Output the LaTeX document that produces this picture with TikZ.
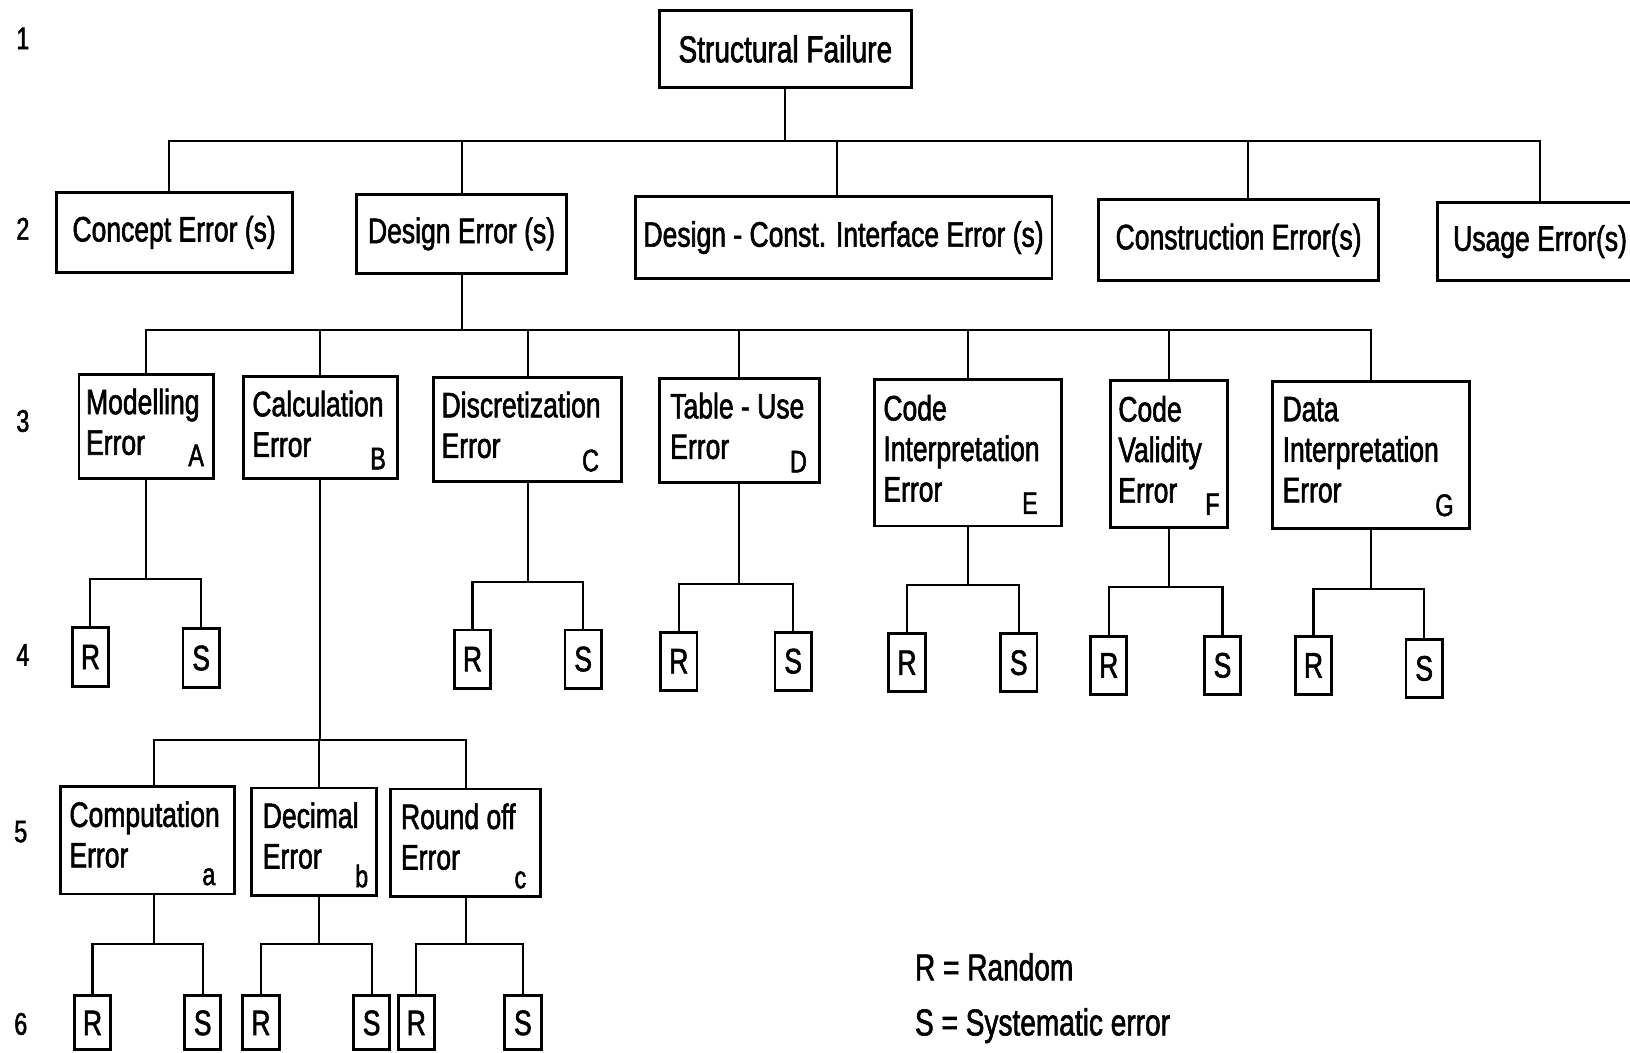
\documentclass[tikz,border=0pt]{standalone}
\usepackage{fontspec}
\setmainfont{Liberation Sans}[FakeStretch=0.75,FakeBold=1.6]
\begin{document}
\begin{tikzpicture}[x=1pt,y=-1pt,
  box/.style={draw, line width=2.8pt, inner sep=0pt, rectangle},
  conn/.style={line width=2pt},
  txt/.style={inner sep=0pt, align=left, font=\fontsize{34}{39}\selectfont},
  lbl/.style={inner sep=0pt, font=\fontsize{30}{30}\selectfont, anchor=base east},
  rs/.style={box, minimum width=35pt, minimum height=56pt, font=\fontsize{34}{36}\selectfont},
  rssix/.style={rs, minimum height=52pt},
  num/.style={inner sep=0pt, font=\fontsize{30}{32}\selectfont},
  lvltwo/.style={box, font=\fontsize{34}{36}\selectfont}
]
\useasboundingbox (0,0) rectangle (1568,1012);
\fill[white] (0,0) rectangle (1568,1012);

% row numbers
\node[num] (n1) at (22,37) {1};
\node[num] (n2) at (22,220) {2};
\node[num] (n3) at (22,405) {3};
\node[num] (n4) at (22,630) {4};
\node[num] (n5) at (20,800) {5};
\node[num] (n6) at (20,985) {6};

% level 1
\node[box, minimum width=243pt, minimum height=74pt, font=\fontsize{36}{40}\selectfont] (root) at (755.5,47) {Structural Failure};

% level 2
\node[lvltwo, minimum width=227pt, minimum height=77pt] (concept) at (167.5,223.5) {Concept Error (s)};
\node[lvltwo, minimum width=202pt, minimum height=76pt] (design) at (444,225) {Design Error (s)};
\node[lvltwo, minimum width=401pt, minimum height=79pt] (dci) at (811.5,228.5) {Design - Const. Interface Error (s)};
\node[lvltwo, minimum width=269pt, minimum height=78pt] (cons) at (1191.5,231) {Construction Error(s)};
\node[lvltwo, minimum width=197pt, minimum height=75pt] (usage) at (1481.5,232.5) {Usage Error(s)};

% level 3 boxes
\node[box, minimum width=129pt, minimum height=100pt] (A) at (140.5,410) {};
\node[box, minimum width=148pt, minimum height=98pt] (B) at (308,411) {};
\node[box, minimum width=181pt, minimum height=100pt] (C) at (507.5,413) {};
\node[box, minimum width=154pt, minimum height=100pt] (D) at (711,414) {};
\node[box, minimum width=180pt, minimum height=141pt] (E) at (931,435.5) {};
\node[box, minimum width=113pt, minimum height=141pt] (F) at (1124.5,436.5) {};
\node[box, minimum width=190pt, minimum height=141pt] (G) at (1319,437.5) {};

\node[txt, anchor=north west] (At) at ([xshift=8pt,yshift=-15pt]A.north west) {Modelling\\Error};
\node[txt, anchor=north west] (Bt) at ([xshift=10pt,yshift=-15pt]B.north west) {Calculation\\Error};
\node[txt, anchor=north west] (Ct) at ([xshift=9pt,yshift=-15pt]C.north west) {Discretization\\Error};
\node[txt, anchor=north west] (Dt) at ([xshift=12pt,yshift=-15pt]D.north west) {Table - Use\\Error};
\node[txt, anchor=north west] (Et) at ([xshift=10pt,yshift=-16pt]E.north west) {Code\\Interpretation\\Error};
\node[txt, anchor=north west] (Ft) at ([xshift=9pt,yshift=-16pt]F.north west) {Code\\Validity\\Error};
\node[txt, anchor=north west] (Gt) at ([xshift=11pt,yshift=-16pt]G.north west) {Data\\Interpretation\\Error};

\node[lbl] (Al) at ([xshift=-10pt,yshift=13pt]A.south east) {A};
\node[lbl] (Bl) at ([xshift=-12pt,yshift=10pt]B.south east) {B};
\node[lbl] (Cl) at ([xshift=-23pt,yshift=11pt]C.south east) {C};
\node[lbl] (Dl) at ([xshift=-13pt,yshift=11pt]D.south east) {D};
\node[lbl] (El) at ([xshift=-24pt,yshift=13pt]E.south east) {E};
\node[lbl] (Fl) at ([xshift=-9pt,yshift=13pt]F.south east) {F};
\node[lbl] (Gl) at ([xshift=-17pt,yshift=13pt]G.south east) {G};

% level 4
\node[rs] (AR) at (87,632) {R};
\node[rs] (AS) at (193.5,633) {S};
\node[rs] (CR) at (454.5,634) {R};
\node[rs] (CS) at (561,634) {S};
\node[rs] (DR) at (653,636) {R};
\node[rs] (DS) at (763,636) {S};
\node[rs] (ER) at (872.5,637.5) {R};
\node[rs] (ES) at (980,637.5) {S};
\node[rs] (FR) at (1066.5,640) {R};
\node[rs] (FS) at (1176,640) {S};
\node[rs] (GR) at (1263.5,640) {R};
\node[rs] (GS) at (1370,643) {S};

% level 5
\node[box, minimum width=168pt, minimum height=103pt] (La) at (142,808.5) {};
\node[box, minimum width=120pt, minimum height=103pt] (Lb) at (302,809.5) {};
\node[box, minimum width=144pt, minimum height=103pt] (Lc) at (448,810.5) {};
\node[txt, anchor=north west] (Lat) at ([xshift=10pt,yshift=-15pt]La.north west) {Computation\\Error};
\node[txt, anchor=north west] (Lbt) at ([xshift=12pt,yshift=-15pt]Lb.north west) {Decimal\\Error};
\node[txt, anchor=north west] (Lct) at ([xshift=11pt,yshift=-15pt]Lc.north west) {Round off\\Error};
\node[lbl] (Lal) at ([xshift=-20pt,yshift=10pt]La.south east) {a};
\node[lbl] (Lbl) at ([xshift=-9pt,yshift=9pt]Lb.south east) {b};
\node[lbl] (Lcl) at ([xshift=-15pt,yshift=9pt]Lc.south east) {c};

% level 6
\node[rssix] (aR) at (89,984) {R};
\node[rssix] (aS) at (195,984) {S};
\node[rssix] (bR) at (251,984) {R};
\node[rssix] (bS) at (357.5,984) {S};
\node[rssix] (cR) at (400.5,984) {R};
\node[rssix] (cS) at (503,984) {S};

% legend
\node[txt, anchor=base west, font=\fontsize{36}{40}\selectfont] (legR) at (880,943) {R = Random};
\node[txt, anchor=base west, font=\fontsize{36}{40}\selectfont] (legS) at (880,996) {S = Systematic error};

% connectors level 1-2
\coordinate (busone) at (0,136);
\draw[conn] (root.south) -- (root.south |- busone);
\draw[conn] ([xshift=-4.5pt]concept.north) |- (usage.north |- busone) -- (usage.north);
\draw[conn] (design.north) -- (design.north |- busone);
\draw[conn] ([xshift=-6pt]dci.north) -- ([xshift=-6pt]dci.north |- busone);
\draw[conn] ([xshift=9pt]cons.north) -- ([xshift=9pt]cons.north |- busone);

% level 2-3
\coordinate (bustwo) at (0,317);
\draw[conn] (design.south) -- (design.south |- bustwo);
\draw[conn] (A.north) |- (G.north |- bustwo) -- (G.north);
\foreach \n in {B,C,D,E,F} \draw[conn] (\n.north) -- (\n.north |- bustwo);

% level 3-4
\foreach \n/\y in {A/557,C/560,D/562,E/563,F/565,G/567}{
  \draw[conn] (\n.south) -- (\n.south |- 0,\y);
  \draw[conn] (\n R.north) |- (\n S.north |- 0,\y) -- (\n S.north);
}

% level 3-5
\coordinate (busfive) at (0,712);
\draw[conn] (B.south) -- (B.south |- busfive);
\draw[conn] ([xshift=6pt]La.north) |- (Lc.north |- busfive) -- (Lc.north);
\draw[conn] ([xshift=5pt]Lb.north) -- ([xshift=5pt]Lb.north |- busfive);

% level 5-6
\coordinate (bussix) at (0,908);
\draw[conn] ([xshift=6pt]La.south) -- ([xshift=6pt]La.south |- bussix);
\draw[conn] ([xshift=5pt]Lb.south) -- ([xshift=5pt]Lb.south |- bussix);
\draw[conn] (Lc.south) -- (Lc.south |- bussix);
\draw[conn] (aR.north) |- (aS.north |- bussix) -- (aS.north);
\draw[conn] (bR.north) |- (bS.north |- bussix) -- (bS.north);
\draw[conn] (cR.north) |- (cS.north |- bussix) -- (cS.north);
\end{tikzpicture}
\end{document}
